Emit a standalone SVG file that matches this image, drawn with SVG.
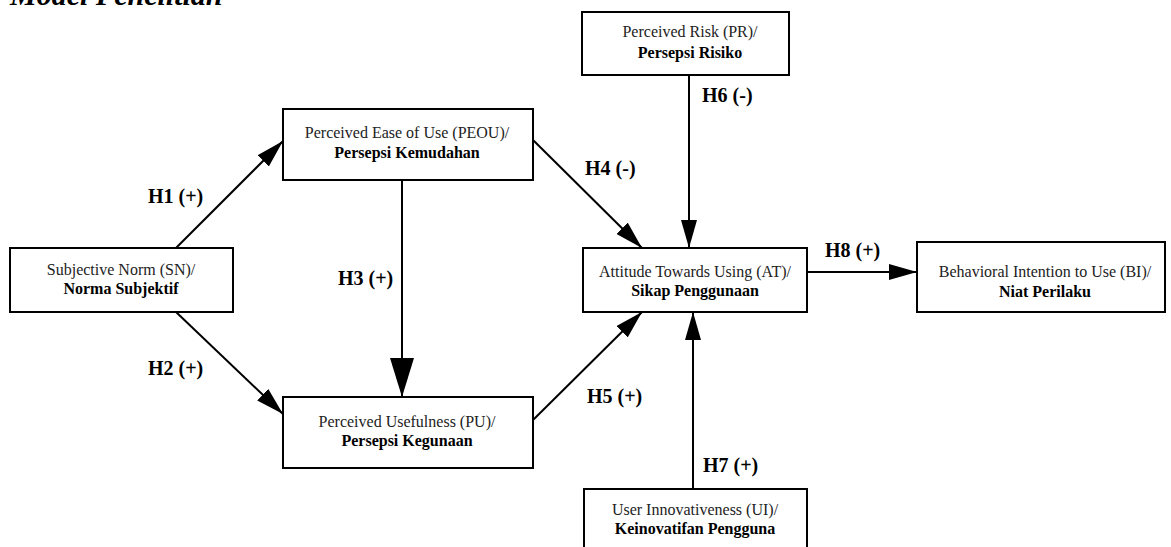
<svg xmlns="http://www.w3.org/2000/svg" width="1171" height="547" viewBox="0 0 1171 547">
<style>
.box{fill:#fff;stroke:#000;stroke-width:2}
.t{font-family:"Liberation Serif","Times New Roman",serif;font-size:16px;fill:#222;text-anchor:middle}
.b{font-weight:bold;fill:#000}
.h{font-family:"Liberation Serif","Times New Roman",serif;font-size:20px;font-weight:bold;fill:#000}
.c{stroke:#000;stroke-width:2;fill:none}
.title{font-family:"Liberation Serif","Times New Roman",serif;font-size:30px;font-weight:bold;font-style:italic}
</style>
<defs>
<marker id="a" markerUnits="userSpaceOnUse" markerWidth="28" markerHeight="16" refX="28" refY="8" orient="auto"><path d="M0,0 L28,8 L0,16 z" fill="#000"/></marker>
<marker id="big" markerUnits="userSpaceOnUse" markerWidth="39" markerHeight="24" refX="39" refY="12" orient="auto"><path d="M0,0 L39,12 L0,24 z" fill="#000"/></marker>
</defs>
<text class="title" x="10" y="5">Model Penelitian</text>
<g id="connectors">
<line class="c" x1="176" y1="248" x2="283" y2="141" marker-end="url(#a)"/>
<line class="c" x1="176" y1="312" x2="283" y2="414" marker-end="url(#a)"/>
<line class="c" x1="402" y1="180" x2="402" y2="397" marker-end="url(#big)"/>
<line class="c" x1="533" y1="140" x2="642" y2="248" marker-end="url(#a)"/>
<line class="c" x1="533" y1="420" x2="642" y2="312" marker-end="url(#a)"/>
<line class="c" x1="689" y1="75" x2="689" y2="248" marker-end="url(#a)"/>
<line class="c" x1="693" y1="489" x2="693" y2="312" marker-end="url(#a)"/>
<line class="c" x1="807" y1="272" x2="917" y2="272" marker-end="url(#a)"/>
<text class="h" x="148" y="203">H1 (+)</text>
<text class="h" x="148" y="375">H2 (+)</text>
<text class="h" x="338" y="285">H3 (+)</text>
<text class="h" x="585" y="175">H4 (-)</text>
<text class="h" x="587" y="403">H5 (+)</text>
<text class="h" x="702" y="102">H6 (-)</text>
<text class="h" x="703" y="472">H7 (+)</text>
<text class="h" x="825" y="257">H8 (+)</text>
</g>
<g id="SN"><rect class="box" x="10" y="248" width="223" height="64"/><text class="t" x="121" y="275">Subjective Norm (SN)/</text><text class="t b" x="121" y="294">Norma Subjektif</text></g>
<g id="PEOU"><rect class="box" x="283" y="109" width="250" height="71"/><text class="t" x="407" y="138">Perceived Ease of Use (PEOU)/</text><text class="t b" x="407" y="158">Persepsi Kemudahan</text></g>
<g id="PU"><rect class="box" x="283" y="397" width="250" height="71"/><text class="t" x="407" y="427">Perceived Usefulness (PU)/</text><text class="t b" x="407" y="446">Persepsi Kegunaan</text></g>
<g id="PR"><rect class="box" x="582" y="12" width="207" height="63"/><text class="t" x="690" y="37">Perceived Risk (PR)/</text><text class="t b" x="690" y="58">Persepsi Risiko</text></g>
<g id="AT"><rect class="box" x="583" y="248" width="224" height="64"/><text class="t" x="695" y="277">Attitude Towards Using (AT)/</text><text class="t b" x="695" y="296">Sikap Penggunaan</text></g>
<g id="BI"><rect class="box" x="917" y="242" width="248" height="70"/><text class="t" x="1045" y="277">Behavioral Intention to Use (BI)/</text><text class="t b" x="1045" y="297">Niat Perilaku</text></g>
<g id="UI"><rect class="box" x="584" y="489" width="223" height="75"/><text class="t" x="695" y="515">User Innovativeness (UI)/</text><text class="t b" x="695" y="534">Keinovatifan Pengguna</text></g>
</svg>
